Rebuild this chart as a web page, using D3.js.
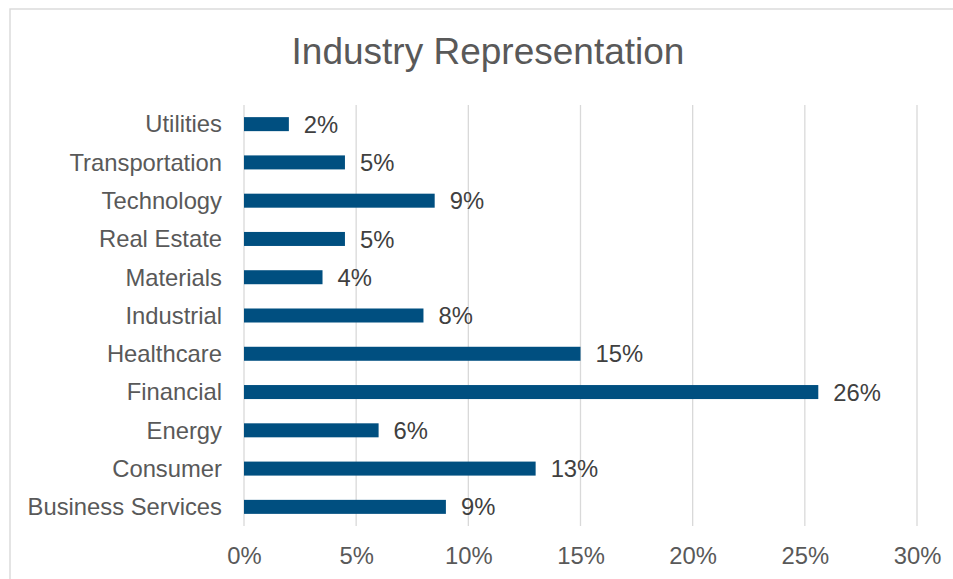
<!DOCTYPE html>
<html>
<head>
<meta charset="utf-8">
<script src="https://cdn.jsdelivr.net/npm/d3@7"></script>
<style>
  html, body { margin: 0; padding: 0; background: #ffffff; }
  svg { display: block; font-family: "Liberation Sans", Arial, sans-serif; }
</style>
</head>
<body>
<svg id="chart" width="953" height="579"></svg>
<script>
// Share of holdings by industry, in percent (listed top to bottom)
const industries = ["Utilities", "Transportation", "Technology", "Real Estate", "Materials",
  "Industrial", "Healthcare", "Financial", "Energy", "Consumer", "Business Services"];
const shares = [2.0, 4.5, 8.5, 4.5, 3.5, 8.0, 15.0, 25.6, 6.0, 13.0, 9.0];
const tickValues = [0, 5, 10, 15, 20, 25, 30];
const chartTitle = "Industry Representation";

const rows = industries.map((name, i) => ({ name, value: shares[i] }));
const labelSize = "23.8px";

const svg = d3.select("#chart");

// outer chart frame
svg.append("rect")
  .attr("x", 10).attr("y", 9)
  .attr("width", 980).attr("height", 620)
  .attr("fill", "#ffffff")
  .attr("stroke", "#d9d9d9")
  .attr("stroke-width", 1.4);

const x = d3.scaleLinear().domain([0, 30]).range([244, 917]);
const y = d3.scaleBand()
  .domain(industries)
  .range([105, 526])
  .paddingInner(0.634)
  .paddingOuter(0.317);

const pct = v => Math.round(v) + "%";

// vertical gridlines
svg.append("g")
  .selectAll("line")
  .data(tickValues)
  .join("line")
  .attr("x1", d => x(d)).attr("x2", d => x(d))
  .attr("y1", 105).attr("y2", 526)
  .attr("stroke", "#d9d9d9")
  .attr("stroke-width", 1.3);

// x axis tick labels
const xAxis = d3.axisBottom(x)
  .tickValues(tickValues)
  .tickFormat(pct)
  .tickSize(0)
  .tickPadding(0);

const gx = svg.append("g")
  .attr("transform", "translate(0,547)")
  .call(xAxis);
gx.select(".domain").remove();
gx.selectAll("text")
  .attr("dy", "0.71em")
  .attr("fill", "#595959")
  .style("font-size", labelSize)
  .style("font-family", "'Liberation Sans', Arial, sans-serif");

// category labels
const yAxis = d3.axisLeft(y).tickSize(0).tickPadding(0);
const gy = svg.append("g")
  .attr("transform", "translate(222,0)")
  .call(yAxis);
gy.select(".domain").remove();
gy.selectAll("text")
  .attr("dy", "0.35em")
  .attr("fill", "#595959")
  .style("font-size", labelSize)
  .style("font-family", "'Liberation Sans', Arial, sans-serif");

// bars
svg.append("g")
  .selectAll("rect")
  .data(rows)
  .join("rect")
  .attr("x", x(0))
  .attr("y", d => y(d.name))
  .attr("width", d => x(d.value) - x(0))
  .attr("height", y.bandwidth())
  .attr("fill", "#004f80");

// value labels
svg.append("g")
  .selectAll("text")
  .data(rows)
  .join("text")
  .attr("x", d => x(d.value) + 15)
  .attr("y", d => y(d.name) + y.bandwidth() / 2)
  .attr("dy", "0.36em")
  .attr("fill", "#404040")
  .style("font-size", labelSize)
  .text(d => pct(d.value));

// title
svg.append("text")
  .attr("x", 488)
  .attr("y", 63.5)
  .attr("text-anchor", "middle")
  .attr("fill", "#595959")
  .style("font-size", "37px")
  .text(chartTitle);
</script>
</body>
</html>
